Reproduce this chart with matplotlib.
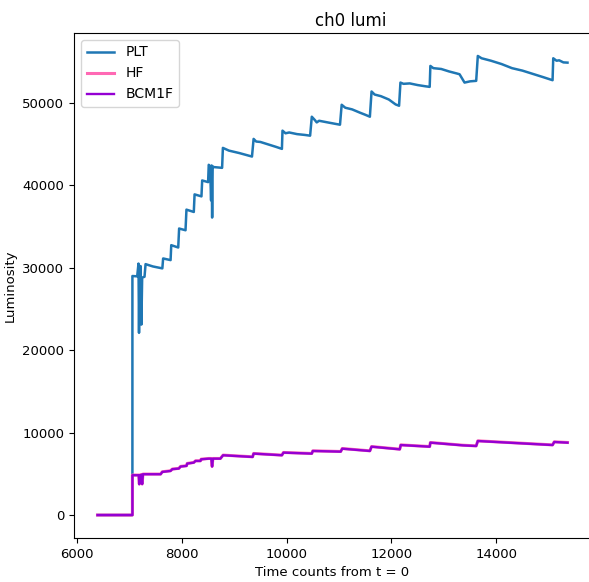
import matplotlib
matplotlib.use("Agg")
import matplotlib.pyplot as plt

plt.rcParams['font.family'] = ['DejaVu Sans']
plt.rcParams['font.size'] = 9.5

# PLT luminosity (breakpoints)
plt_t = [6393, 7059, 7059, 7150, 7175, 7185, 7195, 7205, 7215, 7230, 7245, 7290,
         7310, 7450, 7630, 7645, 7787, 7800, 7933, 7950, 8072, 8090, 8230, 8245, 8376,
         8390, 8503, 8515, 8540, 8560, 8570, 8580, 8590, 8600, 8770, 8785, 8900, 9100, 9340,
         9371, 9420, 9500, 9650, 9800, 9911,
         9922, 9980, 10050, 10200, 10350, 10449,
         10481, 10540, 10575, 10620, 10800, 11019,
         11051, 11120, 11250, 11400, 11500, 11589,
         11621, 11680, 11800, 11950, 12080, 12146,
         12172, 12230, 12350, 12500, 12650, 12730,
         12743, 12800, 12950, 13100, 13250, 13300, 13395, 13500, 13617,
         13648, 13720, 13900, 14100, 14300, 14500, 14700, 14900, 15074,
         15087, 15150, 15200, 15280, 15359]
plt_lumi = [0, 0, 28990, 28950, 30500, 22100, 29800, 25000, 30200, 23100, 28800, 28900,
            30430, 30150, 29915, 31120, 30920, 32730, 32450, 34750, 34540, 37040, 36760, 38890, 38650,
            40580, 40380, 42480, 42300, 38160, 42400, 36080, 42300, 42210, 42110, 44530, 44200, 43900, 43480,
            45620, 45300, 45250, 44950, 44650, 44410,
            46620, 46300, 46400, 46200, 46100, 46010,
            48310, 47900, 47620, 47820, 47600, 47340,
            49760, 49400, 49200, 48800, 48550, 48310,
            51370, 51000, 50800, 50400, 49800, 49640,
            52450, 52300, 52350, 52150, 52000, 51930,
            54470, 54200, 54100, 53800, 53550, 53460, 52450, 52600, 52660,
            55680, 55400, 55100, 54700, 54200, 53900, 53500, 53100, 52740,
            55400, 55100, 55150, 54900, 54870]

# HF luminosity
hf_t = [6393, 7059, 7059, 7180, 7190, 7200, 7215, 7230, 7245, 7260, 7597, 7629,
        7787, 7819, 7945, 7977, 8091, 8104, 8230, 8262, 8357, 8370, 8515, 8565,
        8579, 8595, 8737, 8789, 9352, 9371, 9910, 9941, 10481, 10500, 11032, 11062,
        11589, 11621, 12159, 12178, 12730, 12743, 13363, 13617, 13648, 15074, 15106, 15359]
hf_lumi = [0, 0, 4850, 4850, 3760, 4850, 3920, 4920, 3770, 4970, 4970, 5250,
           5370, 5580, 5660, 5900, 5980, 6260, 6380, 6580, 6580, 6780, 6860, 6860,
           5900, 6860, 6860, 7270, 7065, 7470, 7270, 7590, 7470, 7790, 7710, 8070,
           7790, 8310, 7990, 8510, 8310, 8800, 8470, 8390, 9000, 8510, 8880, 8800]

# BCM1F luminosity
bcm_t = [6393, 7059, 7059, 7180, 7190, 7200, 7215, 7230, 7245, 7260, 7597, 7629,
         7787, 7819, 7945, 7977, 8091, 8104, 8230, 8262, 8357, 8370, 8515, 8565,
         8579, 8595, 8737, 8789, 9352, 9371, 9910, 9941, 10481, 10500, 11032, 11062,
         11589, 11621, 12159, 12178, 12730, 12743, 13363, 13617, 13648, 15074, 15106, 15359]
bcm_lumi = [0, 0, 4830, 4830, 3740, 4830, 3900, 4900, 3750, 4950, 4950, 5230,
            5350, 5560, 5640, 5880, 5960, 6240, 6360, 6560, 6560, 6760, 6840, 6840,
            5880, 6840, 6840, 7250, 7045, 7450, 7250, 7570, 7450, 7770, 7690, 8050,
            7770, 8290, 7970, 8490, 8290, 8780, 8450, 8370, 8980, 8490, 8860, 8780]

fig = plt.figure(figsize=(5.89, 5.82), dpi=100)
ax = fig.add_axes([74/589, 44/582, 517/589, 505/582])

ax.plot(plt_t, plt_lumi, color='#1f77b4', lw=1.8, label='PLT')
ax.plot(hf_t, hf_lumi, color='hotpink', lw=2.2, label='HF')
ax.plot(bcm_t, bcm_lumi, color='#9400d3', lw=1.7, label='BCM1F')

ax.spines['right'].set_visible(False)
ax.set_title('ch0 lumi', fontsize=12, x=0.536, pad=5)
ax.set_xlabel('Time counts from t = 0', fontsize=9.5)
ax.set_ylabel('Luminosity', fontsize=9.5)
ax.legend(loc='upper left', fontsize=10)

fig.savefig('out.png', dpi=100)
